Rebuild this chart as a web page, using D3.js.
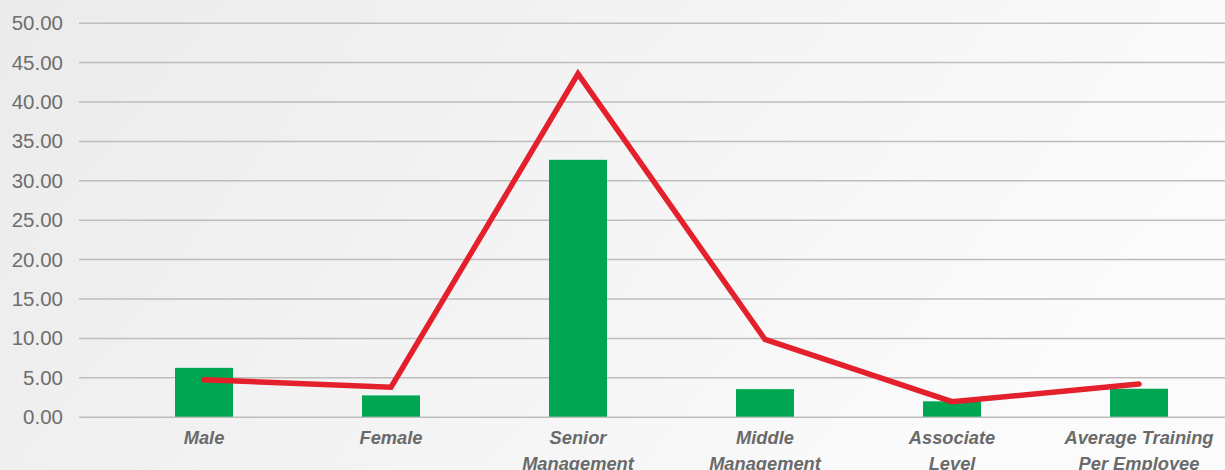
<!DOCTYPE html>
<html><head><meta charset="utf-8">
<script src="https://cdn.jsdelivr.net/npm/d3@7"></script>
<style>html,body{margin:0;padding:0;overflow:hidden;}svg{display:block;}</style>
</head><body>
<script>
const categories = [["Male"],["Female"],["Senior","Management"],["Middle","Management"],["Associate","Level"],["Average Training","Per Employee"]];
const barValues = [6.2, 2.7, 32.6, 3.5, 1.95, 3.55];
const lineValues = [4.7, 3.75, 43.5, 9.8, 1.9, 4.15];
const yTicks = [0,5,10,15,20,25,30,35,40,45,50];

const W = 1225, H = 470;
const svg = d3.select("body").append("svg").attr("width", W).attr("height", H);
const defs = svg.append("defs");
const g = defs.append("linearGradient").attr("id","bg").attr("x1","0").attr("x2","1").attr("y1","0").attr("y2","0.3");
g.append("stop").attr("offset","0").attr("stop-color","#ebebeb");
g.append("stop").attr("offset","1").attr("stop-color","#fbfbfb");
svg.append("rect").attr("width",W).attr("height",H).attr("fill","url(#bg)");

const idx = categories.map((d,i)=>i);
const x = d3.scaleBand().domain(idx).range([110.5, 1232.5]).paddingInner(0).paddingOuter(0);
const y = d3.scaleLinear().domain([0,50]).range([416.7, 22.7]);

// grid
const grid = svg.append("g")
  .call(d3.axisLeft(y).tickValues(yTicks).tickSize(-(W-79)).tickFormat(d=>d.toFixed(2)))
  .attr("transform","translate(79,0)");
grid.select(".domain").remove();
grid.selectAll(".tick line").attr("stroke","#bdbdbd").attr("stroke-width",1.5);
grid.selectAll(".tick text").attr("x",-16).attr("dy","0.34em")
  .attr("fill","#6e6e6e").style("font-family","'Liberation Sans', Arial, sans-serif").style("font-size","20.5px");

// bars
const bw = 58;
svg.append("g").selectAll("rect").data(barValues).join("rect")
  .attr("x",(d,i)=>x(i)+x.bandwidth()/2-bw/2)
  .attr("y",d=>y(d)).attr("width",bw).attr("height",d=>y(0)-y(d))
  .attr("fill","#00a651");

// line
const line = d3.line().x((d,i)=>x(i)+x.bandwidth()/2).y(d=>y(d));
svg.append("path").datum(lineValues).attr("d",line)
  .attr("fill","none").attr("stroke","#e3202c").attr("stroke-width",5.5)
  .attr("stroke-linecap","round").attr("stroke-linejoin","miter");

// x labels
const xl = svg.append("g").selectAll("text").data(categories).join("text")
  .attr("x",(d,i)=>x(i)+x.bandwidth()/2).attr("y",444)
  .attr("text-anchor","middle").attr("fill","#6a6a6a")
  .style("font-family","'Liberation Sans', Arial, sans-serif").style("font-size","18.3px")
  .style("font-weight","bold").style("font-style","italic");
xl.selectAll("tspan").data(d=>d).join("tspan")
  .attr("x",function(){return this.parentNode.getAttribute("x");})
  .attr("dy",(d,i)=>i===0?0:26).text(d=>d);
</script>
</body></html>
